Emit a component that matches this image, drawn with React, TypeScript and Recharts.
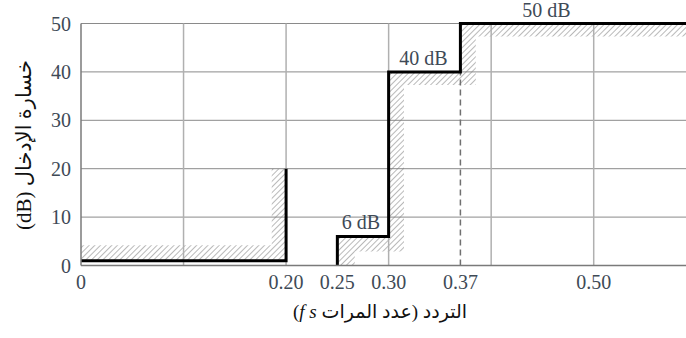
import React from "react";
import {
  ComposedChart,
  Area,
  Line,
  XAxis,
  YAxis,
  CartesianGrid,
  ReferenceLine,
  ReferenceDot,
  Label,
} from "recharts";

// axis ticks
const xTicks = [0, 0.2, 0.25, 0.3, 0.37, 0.5];
const xTickLabels = ["0", "0.20", "0.25", "0.30", "0.37", "0.50"];
const yTicks = [0, 10, 20, 30, 40, 50];
const gridX = [0.1, 0.2, 0.3, 0.4, 0.5];

// spec lines (frequency in fs, loss in dB)
const passbandLine = [
  { f: 0, db: 1 },
  { f: 0.2, db: 1 },
  { f: 0.2, db: 20 },
];
const stopbandLine = [
  { f: 0.25, db: 0 },
  { f: 0.25, db: 6 },
  { f: 0.3, db: 6 },
  { f: 0.3, db: 40 },
  { f: 0.37, db: 40 },
  { f: 0.37, db: 50 },
  { f: 0.59, db: 50 },
];
const dashedLine = [
  { f: 0.37, db: 0 },
  { f: 0.37, db: 40 },
];

// hatched tolerance bands [low, high]
const passbandHatch = [
  { f: 0, band: [1, 4.2] },
  { f: 0.186, band: [1, 4.2] },
  { f: 0.186, band: [1, 20] },
  { f: 0.2, band: [1, 20] },
];
const stopbandHatch = [
  { f: 0.25, band: [0, 6] },
  { f: 0.267, band: [0, 6] },
  { f: 0.267, band: [2.9, 6] },
  { f: 0.3, band: [2.9, 6] },
  { f: 0.3, band: [2.9, 40] },
  { f: 0.315, band: [2.9, 40] },
  { f: 0.315, band: [37.3, 40] },
  { f: 0.37, band: [37.3, 40] },
  { f: 0.37, band: [37.3, 50] },
  { f: 0.385, band: [37.3, 50] },
  { f: 0.385, band: [47.3, 50] },
  { f: 0.59, band: [47.3, 50] },
];

const annotations = [
  { f: 0.273, db: 6, text: "6 dB" },
  { f: 0.334, db: 40, text: "40 dB" },
  { f: 0.454, db: 50, text: "50 dB" },
];

const serif = "'Liberation Serif', 'DejaVu Serif', serif";
const arabic = "'Liberation Serif', 'DejaVu Sans', sans-serif";
const textColor = "#3e4a56";

export default function App() {
  return (
    <div style={{ position: "absolute", left: 0, top: 0, background: "#fff" }}>
      <ComposedChart
        width={686}
        height={338}
        margin={{ top: 23.5, right: 0, left: 0, bottom: 42.5 }}
      >
        <defs>
          <pattern
            id="hatch"
            width="4"
            height="4"
            patternUnits="userSpaceOnUse"
            patternTransform="rotate(45)"
          >
            <line x1="0" y1="0" x2="0" y2="4" stroke="#7e7e7e" strokeWidth={1.1} />
          </pattern>
        </defs>
        <CartesianGrid vertical={false} stroke="#8a8a8a" strokeWidth={1} />
        {gridX.map((v) => (
          <ReferenceLine key={v} x={v} stroke="#b0b0b0" strokeWidth={1.5} />
        ))}
        <XAxis
          type="number"
          dataKey="f"
          domain={[0, 0.59]}
          allowDataOverflow
          ticks={xTicks}
          tickFormatter={(v) => xTickLabels[xTicks.indexOf(v)] ?? String(v)}
          interval={0}
          height={30}
          tickLine={false}
          axisLine={{ stroke: "#7a7a7a", strokeWidth: 1.5 }}
          tickMargin={3}
          tick={{ fill: textColor, fontSize: 20, fontFamily: serif }}
        >
          <Label
            content={() => (
              <text
                x={380}
                y={318}
                textAnchor="middle"
                direction="rtl"
                fontSize={19}
                fontFamily={arabic}
                fill="#111"
              >
                التردد (عدد المرات <tspan fontStyle="italic">f s</tspan>)
              </text>
            )}
          />
        </XAxis>
        <YAxis
          type="number"
          domain={[0, 50]}
          ticks={yTicks}
          width={81}
          tickLine={false}
          axisLine={{ stroke: "#7a7a7a", strokeWidth: 1.5 }}
          tickMargin={4}
          tick={{ fill: textColor, fontSize: 20, fontFamily: serif }}
        >
          <Label
            content={() => (
              <text
                x={24}
                y={145}
                transform="rotate(-90 24 145)"
                textAnchor="middle"
                dominantBaseline="central"
                direction="rtl"
                fontSize={21}
                fontFamily={arabic}
                fill="#111"
              >
                خسارة الإدخال (dB)
              </text>
            )}
          />
        </YAxis>
        <Area
          data={passbandHatch}
          dataKey="band"
          type="linear"
          stroke="none"
          fill="url(#hatch)"
          fillOpacity={1}
          isAnimationActive={false}
        />
        <Area
          data={stopbandHatch}
          dataKey="band"
          type="linear"
          stroke="none"
          fill="url(#hatch)"
          fillOpacity={1}
          isAnimationActive={false}
        />
        <Line
          data={dashedLine}
          dataKey="db"
          type="linear"
          stroke="#707070"
          strokeWidth={1.5}
          strokeDasharray="6 4"
          dot={false}
          isAnimationActive={false}
        />
        <Line
          data={passbandLine}
          dataKey="db"
          type="linear"
          stroke="#000"
          strokeWidth={3}
          dot={false}
          isAnimationActive={false}
        />
        <Line
          data={stopbandLine}
          dataKey="db"
          type="linear"
          stroke="#000"
          strokeWidth={3}
          dot={false}
          isAnimationActive={false}
        />
        {annotations.map((a) => (
          <ReferenceDot
            key={a.text}
            x={a.f}
            y={a.db}
            r={0}
            fill="none"
            stroke="none"
            ifOverflow="visible"
            label={{
              value: a.text,
              position: "top",
              offset: 7,
              fill: textColor,
              fontSize: 20,
              fontFamily: serif,
            }}
          />
        ))}
      </ComposedChart>
    </div>
  );
}
